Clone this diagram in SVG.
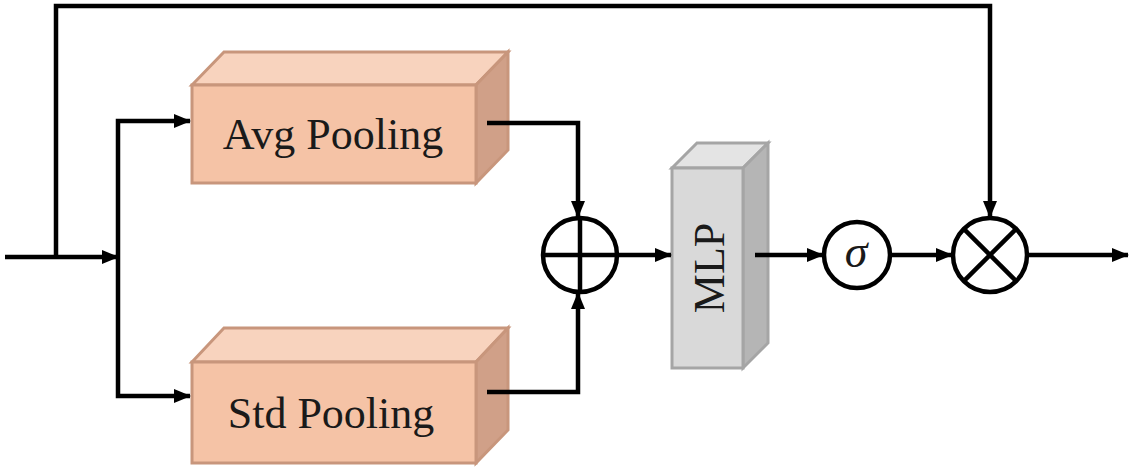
<svg xmlns="http://www.w3.org/2000/svg" width="1133" height="469" viewBox="0 0 1133 469">
<style>
.ln{fill:none;stroke:#000;stroke-width:4.5;stroke-linejoin:miter;stroke-linecap:butt}
.pf{fill:#F5C3A6;stroke:#C8967C;stroke-width:3}
.pt{fill:#F8D3BE;stroke:#C8967C;stroke-width:3}
.pr{fill:#D0A088;stroke:#C8967C;stroke-width:3}
.mf{fill:#D9D9D9;stroke:#A5A5A5;stroke-width:3}
.mt{fill:#E4E4E4;stroke:#A5A5A5;stroke-width:3}
.mr{fill:#B5B5B5;stroke:#A5A5A5;stroke-width:3}
.tx{font-family:"Liberation Serif","Times New Roman",serif;font-size:44px;fill:#1a1a1a}
.op{fill:#fff;stroke:#000;stroke-width:4.5}
</style>
<defs>
<marker id="ah" markerWidth="17" markerHeight="14" refX="16" refY="7" orient="auto" markerUnits="userSpaceOnUse">
<path d="M0,0 L17,7 L0,14 Z" fill="#000"/>
</marker>
</defs>
<rect width="1133" height="469" fill="#fff"/>

<g id="avg-pooling">
<polygon class="pt" points="192,85 224,52 508,52 476,85"/>
<polygon class="pr" points="476,85 508,52 508,150 476,183"/>
<rect class="pf" x="192" y="85" width="284" height="98"/>
<text class="tx" x="333" y="149" text-anchor="middle">Avg Pooling</text>
</g>

<g id="std-pooling">
<polygon class="pt" points="192,362 224,328 508,328 476,362"/>
<polygon class="pr" points="476,362 508,328 508,430 476,463"/>
<rect class="pf" x="192" y="362" width="284" height="101"/>
<text class="tx" x="331" y="428" text-anchor="middle">Std Pooling</text>
</g>

<g id="mlp">
<polygon class="mt" points="672,168 697,143 768,143 743,168"/>
<polygon class="mr" points="743,168 768,143 768,343 743,368"/>
<rect class="mf" x="672" y="168" width="71" height="200"/>
<text class="tx" transform="translate(724,268) rotate(-90)" text-anchor="middle">MLP</text>
</g>

<g id="add">
<circle class="op" cx="580" cy="255" r="37"/>
<line class="ln" x1="543" y1="255" x2="617" y2="255"/>
<line class="ln" x1="580" y1="218" x2="580" y2="292"/>
</g>

<g id="sigmoid">
<circle class="op" cx="857" cy="255" r="33"/>
<text x="856" y="267" text-anchor="middle" font-family="'Liberation Serif','Times New Roman',serif" font-style="italic" font-size="46" fill="#1a1a1a">σ</text>
</g>

<g id="multiply">
<circle class="op" cx="990" cy="255" r="37"/>
<line class="ln" x1="963.8" y1="228.8" x2="1016.2" y2="281.2"/>
<line class="ln" x1="1016.2" y1="228.8" x2="963.8" y2="281.2"/>
</g>

<g id="connectors">
<line class="ln" x1="5" y1="257" x2="118" y2="257" marker-end="url(#ah)"/>
<polyline class="ln" points="56,257 56,6 990,6 990,217" marker-end="url(#ah)"/>
<polyline class="ln" points="118,257 118,121 190,121" marker-end="url(#ah)"/>
<polyline class="ln" points="118,257 118,396 190,396" marker-end="url(#ah)"/>
<polyline class="ln" points="487,123 578,123 578,217" marker-end="url(#ah)"/>
<polyline class="ln" points="487,392 578,392 578,293" marker-end="url(#ah)"/>
<line class="ln" x1="617" y1="255" x2="671" y2="255" marker-end="url(#ah)"/>
<line class="ln" x1="755" y1="255" x2="823" y2="255" marker-end="url(#ah)"/>
<line class="ln" x1="890" y1="255" x2="952" y2="255" marker-end="url(#ah)"/>
<line class="ln" x1="1027" y1="255" x2="1128" y2="255" marker-end="url(#ah)"/>
</g>
</svg>
